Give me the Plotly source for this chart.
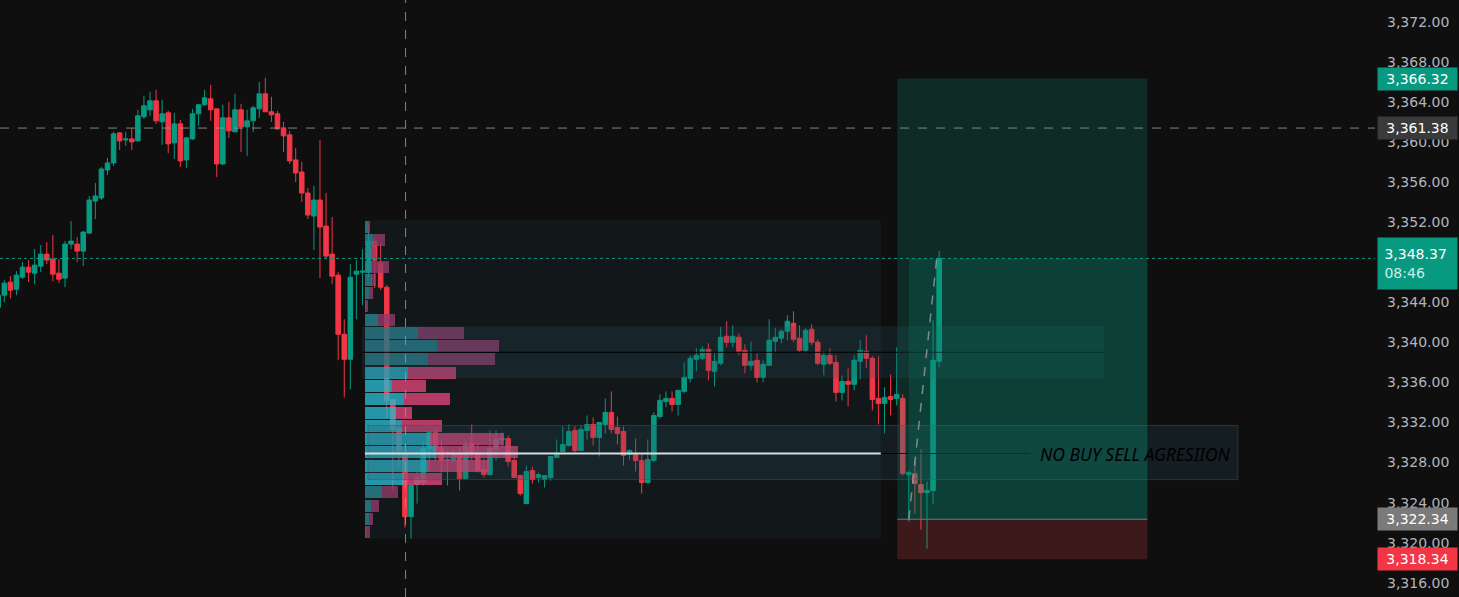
import plotly.graph_objects as go

# ---------------- data ----------------
bar_index = list(range(-1, 155))
opens = [3343.5,
 3344.7, 3346.0, 3345.3, 3346.5, 3347.5, 3346.9, 3347.6, 3348.8, 3348.3, 3346.9,
 3346.4, 3349.8, 3349.8, 3349.1, 3350.9, 3354.1, 3354.4, 3357.2, 3357.9, 3360.9,
 3360.2, 3360.3, 3360.1, 3362.5, 3363.2, 3364.1, 3362.0, 3362.9, 3359.9, 3361.8,
 3358.2, 3360.3, 3362.8, 3363.7, 3364.3, 3363.3, 3357.8, 3362.4, 3361.0, 3363.2,
 3361.5, 3362.1, 3363.3, 3364.8, 3363.0, 3362.8, 3361.4, 3360.7, 3358.2, 3357.0,
 3354.9, 3352.6, 3354.2, 3351.6, 3348.8, 3346.7, 3340.8, 3338.3, 3346.8, 3347.0,
 3347.0, 3350.1, 3347.9, 3345.5, 3334.3, 3331.4, 3328.9, 3322.6, 3325.8, 3326.0,
 3329.4, 3331.0, 3329.5, 3328.2, 3328.2, 3328.9, 3326.4, 3329.9, 3328.9, 3327.3,
 3326.8, 3329.3, 3330.3, 3330.4, 3328.2, 3326.7, 3323.9, 3327.2, 3326.5, 3326.3,
 3326.5, 3328.5, 3329.1, 3329.7, 3331.2, 3329.2, 3331.2, 3331.8, 3330.5, 3331.8,
 3333.0, 3331.5, 3331.1, 3328.8, 3328.8, 3328.2, 3326.0, 3328.2, 3332.6, 3334.1,
 3334.4, 3333.8, 3335.1, 3336.4, 3338.3, 3338.4, 3339.3, 3337.1, 3337.9, 3340.6,
 3340.0, 3340.5, 3339.2, 3337.7, 3338.2, 3336.5, 3337.7, 3340.1, 3340.4, 3341.1,
 3341.9, 3340.4, 3339.2, 3341.3, 3340.0, 3337.8, 3338.7, 3338.0, 3335.0, 3336.1,
 3335.8, 3338.1, 3339.1, 3338.4, 3334.4, 3333.9, 3334.6, 3334.4, 3334.4, 3326.8,
 3326.9, 3325.8, 3325.0, 3325.2, 3338.1]
highs = [3345.3,
 3346.2, 3346.6, 3347.1, 3348.0, 3348.2, 3349.3, 3349.7, 3350.0, 3350.7, 3348.3,
 3350.1, 3352.1, 3350.5, 3351.1, 3354.6, 3355.9, 3357.5, 3358.4, 3361.0, 3360.9,
 3361.0, 3361.4, 3363.2, 3364.6, 3365.0, 3365.2, 3364.2, 3363.1, 3362.9, 3362.2,
 3360.5, 3363.3, 3363.8, 3365.2, 3365.7, 3363.3, 3363.7, 3364.0, 3364.8, 3363.8,
 3363.2, 3363.6, 3366.0, 3366.4, 3364.5, 3363.1, 3362.0, 3361.1, 3359.4, 3358.0,
 3355.4, 3355.6, 3360.2, 3354.9, 3352.5, 3347.0, 3342.3, 3347.8, 3348.2, 3349.3,
 3351.7, 3350.5, 3349.9, 3345.7, 3334.3, 3331.9, 3329.9, 3325.9, 3327.2, 3330.2,
 3331.2, 3331.4, 3330.4, 3329.4, 3329.4, 3329.5, 3330.2, 3331.8, 3329.9, 3328.4,
 3331.2, 3331.2, 3331.0, 3330.7, 3328.7, 3326.8, 3327.7, 3327.6, 3327.0, 3326.7,
 3328.6, 3330.3, 3331.6, 3331.8, 3331.6, 3331.7, 3332.7, 3332.5, 3332.0, 3334.4,
 3335.1, 3332.6, 3331.6, 3329.3, 3330.4, 3328.8, 3330.3, 3333.0, 3334.8, 3335.1,
 3335.1, 3335.2, 3338.0, 3338.7, 3339.4, 3339.6, 3339.9, 3338.9, 3341.5, 3342.1,
 3341.7, 3340.9, 3339.8, 3340.1, 3338.9, 3338.2, 3342.3, 3341.4, 3341.3, 3342.7,
 3343.1, 3341.7, 3341.4, 3341.8, 3340.3, 3339.1, 3339.4, 3338.7, 3336.7, 3337.4,
 3338.7, 3340.2, 3340.7, 3338.6, 3338.6, 3335.5, 3336.8, 3339.5, 3334.8, 3327.2,
 3328.2, 3329.3, 3326.1, 3342.2, 3349.1]
lows = [3342.8,
 3344.0, 3344.4, 3344.7, 3346.3, 3346.0, 3345.8, 3347.0, 3347.8, 3346.1, 3345.9,
 3345.5, 3349.3, 3348.0, 3347.6, 3350.8, 3352.3, 3354.2, 3356.7, 3357.6, 3359.2,
 3359.6, 3359.2, 3360.1, 3362.3, 3362.6, 3361.8, 3359.7, 3358.9, 3358.3, 3357.5,
 3357.4, 3360.2, 3361.6, 3363.6, 3362.1, 3356.5, 3357.7, 3360.4, 3361.0, 3359.0,
 3358.6, 3361.0, 3362.4, 3363.0, 3362.0, 3361.2, 3359.0, 3357.8, 3356.0, 3354.0,
 3352.3, 3349.2, 3346.4, 3348.4, 3345.8, 3338.2, 3334.5, 3335.3, 3342.3, 3343.7,
 3346.5, 3345.4, 3345.2, 3332.5, 3325.2, 3327.5, 3321.5, 3320.4, 3323.9, 3325.7,
 3327.2, 3328.2, 3327.0, 3325.7, 3328.0, 3325.2, 3326.3, 3328.2, 3327.0, 3326.5,
 3326.7, 3328.2, 3329.4, 3327.6, 3326.5, 3324.7, 3323.9, 3325.9, 3326.0, 3325.5,
 3326.2, 3328.5, 3329.1, 3329.6, 3329.0, 3329.2, 3330.3, 3329.7, 3328.6, 3330.9,
 3330.9, 3329.8, 3327.7, 3328.3, 3327.1, 3324.9, 3325.9, 3328.0, 3332.4, 3333.5,
 3333.1, 3332.7, 3334.9, 3336.0, 3337.1, 3338.2, 3336.2, 3335.6, 3337.7, 3339.5,
 3339.5, 3338.7, 3336.9, 3337.2, 3336.0, 3336.0, 3337.7, 3339.0, 3339.9, 3340.2,
 3340.0, 3339.0, 3338.9, 3339.7, 3337.7, 3336.7, 3337.7, 3334.1, 3334.2, 3333.6,
 3335.2, 3336.3, 3337.4, 3333.2, 3331.8, 3330.9, 3332.7, 3333.7, 3326.7, 3322.1,
 3322.9, 3321.3, 3319.4, 3323.9, 3337.5]
closes = [3344.7,
 3345.9, 3345.2, 3346.7, 3347.5, 3347.0, 3347.7, 3348.8, 3348.2, 3346.8, 3346.3,
 3349.8, 3350.1, 3349.1, 3351.0, 3354.2, 3354.6, 3357.3, 3357.9, 3360.8, 3360.1,
 3360.3, 3360.0, 3362.6, 3363.6, 3364.1, 3362.1, 3362.8, 3359.8, 3361.8, 3358.1,
 3360.4, 3362.8, 3363.7, 3364.4, 3363.2, 3357.8, 3362.4, 3361.1, 3363.2, 3361.5,
 3362.1, 3363.4, 3364.8, 3363.0, 3362.7, 3361.3, 3360.6, 3358.1, 3356.9, 3354.9,
 3352.7, 3354.2, 3351.5, 3348.6, 3346.6, 3340.8, 3338.3, 3346.5, 3347.1, 3347.1,
 3350.1, 3348.2, 3345.5, 3334.2, 3331.3, 3329.2, 3322.6, 3325.7, 3326.5, 3329.4,
 3331.0, 3329.2, 3328.2, 3328.3, 3328.9, 3326.4, 3329.8, 3328.8, 3327.2, 3326.8,
 3329.4, 3330.3, 3330.4, 3328.1, 3326.5, 3324.9, 3327.1, 3326.3, 3326.8, 3326.7,
 3328.6, 3328.9, 3329.8, 3331.1, 3329.2, 3331.3, 3331.8, 3330.5, 3332.0, 3333.0,
 3331.3, 3330.9, 3328.7, 3329.2, 3328.2, 3326.0, 3328.3, 3332.7, 3334.2, 3334.4,
 3333.8, 3335.2, 3336.5, 3338.4, 3338.7, 3339.3, 3337.2, 3338.1, 3340.5, 3340.0,
 3340.6, 3339.1, 3337.7, 3338.1, 3336.5, 3337.8, 3340.2, 3340.5, 3341.1, 3342.1,
 3340.3, 3339.2, 3341.2, 3340.0, 3337.9, 3338.7, 3337.9, 3335.0, 3336.1, 3335.8,
 3338.2, 3339.2, 3338.4, 3334.3, 3333.9, 3334.5, 3334.3, 3334.8, 3326.9, 3327.0,
 3325.9, 3325.0, 3325.2, 3338.2, 3348.37]

# volume profile (price bins, buy / sell volume)
vp_levels = [3351.54, 3350.21, 3348.89, 3347.56, 3346.24, 3344.91, 3343.59, 3342.26,
             3340.94, 3339.61, 3338.29, 3336.96, 3335.64, 3334.31, 3332.99, 3331.66,
             3330.34, 3329.01, 3327.69, 3326.36, 3325.04, 3323.71, 3322.39, 3321.06]
vp_buy = [3, 8, 7, 7, 7, 4, 1, 13, 53, 72, 63, 43, 27, 39, 31, 37, 65, 71, 63, 39, 17, 6, 4, 1]
vp_sell = [2, 12, 4, 17, 4, 4, 2, 17, 46, 62, 67, 48, 34, 46, 16, 40, 74, 82, 61, 38, 16, 8, 4, 4]
vp_in_value_area = [False] * 11 + [True] * 9 + [False] * 4

# key prices
TARGET = 3366.32
CROSSHAIR_PRICE = 3361.38
LAST_PRICE = 3348.37
ENTRY = 3322.34
STOP = 3318.34
COUNTDOWN = "08:46"
tick_values = [3316, 3320, 3324, 3328, 3332, 3336, 3340, 3344, 3348, 3352, 3356, 3360, 3364, 3368, 3372]

# drawing anchors (bar index / price)
VP_BAR0, VP_BAR1, VP_TOP, VP_BOTTOM = 59.4, 144.4, 3352.2, 3320.4
UPPER_ZONE = (58.9, 181.2, 3336.4, 3341.6)
UPPER_LINE = 3339.0
LOWER_ZONE = (59.9, 203.2, 3326.3, 3331.7)
POC = 3328.9
POC_LINE_END = 144.4
TEXT_LINE_END = 169.0
TEXT_BAR = 170.3
POS_BAR0, POS_BAR1, ENTRY_BAR, EXIT_BAR = 147.1, 188.3, 149.0, 153.6
CROSSHAIR_BAR = 66.1

BG = "#0f0f0f"
UP = "#089981"
DOWN = "#f23645"

fig = go.Figure()

fig.add_trace(go.Candlestick(
    x=bar_index, open=opens, high=highs, low=lows, close=closes,
    increasing=dict(line=dict(color=UP, width=1), fillcolor=UP),
    decreasing=dict(line=dict(color=DOWN, width=1), fillcolor=DOWN),
    whiskerwidth=0,
    hoverinfo="skip", showlegend=False,
))

buy_colors = ["rgba(42,182,204,0.8)" if v else "rgba(40,132,144,0.8)" for v in vp_in_value_area]
sell_colors = ["rgba(222,67,119,0.8)" if v else "rgba(148,59,104,0.8)" for v in vp_in_value_area]

fig.add_trace(go.Bar(y=vp_levels, x=vp_buy, orientation="h", xaxis="x2", yaxis="y",
                     marker=dict(color=buy_colors, line=dict(width=0)), width=1.2,
                     hoverinfo="skip", showlegend=False))
fig.add_trace(go.Bar(y=vp_levels, x=vp_sell, orientation="h", xaxis="x2", yaxis="y",
                     marker=dict(color=sell_colors, line=dict(width=0)), width=1.2,
                     hoverinfo="skip", showlegend=False))

shapes = []
# volume profile background
shapes.append(dict(type="rect", xref="x", yref="y", x0=VP_BAR0, x1=VP_BAR1, y0=VP_BOTTOM, y1=VP_TOP,
                   fillcolor="#121819", line=dict(width=0), layer="below"))
# zones
shapes.append(dict(type="rect", xref="x", yref="y", x0=UPPER_ZONE[0], x1=UPPER_ZONE[1],
                   y0=UPPER_ZONE[2], y1=UPPER_ZONE[3],
                   fillcolor="rgba(42,84,101,0.22)", line=dict(width=0), layer="above"))
shapes.append(dict(type="line", xref="x", yref="y", x0=UPPER_ZONE[0], x1=UPPER_ZONE[1],
                   y0=UPPER_LINE, y1=UPPER_LINE, line=dict(color="#000000", width=1), layer="above"))
shapes.append(dict(type="rect", xref="x", yref="y", x0=LOWER_ZONE[0], x1=LOWER_ZONE[1],
                   y0=LOWER_ZONE[2], y1=LOWER_ZONE[3],
                   fillcolor="rgba(42,84,101,0.22)", line=dict(color="rgba(60,85,95,0.5)", width=1),
                   layer="above"))
shapes.append(dict(type="line", xref="x", yref="y", x0=VP_BAR0, x1=POC_LINE_END, y0=POC, y1=POC,
                   line=dict(color="#d8dde2", width=2), layer="above"))
shapes.append(dict(type="line", xref="x", yref="y", x0=POC_LINE_END, x1=TEXT_LINE_END, y0=POC, y1=POC,
                   line=dict(color="#000000", width=1), layer="above"))
# position tool
shapes.append(dict(type="rect", xref="x", yref="y", x0=POS_BAR0, x1=POS_BAR1, y0=ENTRY, y1=TARGET,
                   fillcolor="rgba(8,153,129,0.2)", line=dict(width=0), layer="above"))
shapes.append(dict(type="rect", xref="x", yref="y", x0=ENTRY_BAR, x1=POS_BAR1, y0=ENTRY, y1=LAST_PRICE,
                   fillcolor="rgba(8,153,129,0.18)", line=dict(width=0), layer="above"))
shapes.append(dict(type="rect", xref="x", yref="y", x0=POS_BAR0, x1=POS_BAR1, y0=STOP, y1=ENTRY,
                   fillcolor="rgba(242,70,80,0.2)", line=dict(width=0), layer="above"))
shapes.append(dict(type="line", xref="x", yref="y", x0=POS_BAR0, x1=POS_BAR1, y0=ENTRY, y1=ENTRY,
                   line=dict(color="#787878", width=1), layer="above"))
shapes.append(dict(type="line", xref="x", yref="y", x0=ENTRY_BAR, x1=EXIT_BAR, y0=ENTRY, y1=LAST_PRICE,
                   line=dict(color="rgba(170,170,170,0.7)", width=1.5, dash="dash"), layer="above"))
# price line & crosshair
shapes.append(dict(type="line", xref="paper", yref="y", x0=0, x1=1, y0=LAST_PRICE, y1=LAST_PRICE,
                   line=dict(color=UP, width=1, dash="dot"), layer="above"))
shapes.append(dict(type="line", xref="paper", yref="y", x0=0, x1=1, y0=CROSSHAIR_PRICE, y1=CROSSHAIR_PRICE,
                   line=dict(color="rgba(150,150,150,0.85)", width=1, dash="dash"), layer="above"))
shapes.append(dict(type="line", xref="x", yref="paper", x0=CROSSHAIR_BAR, x1=CROSSHAIR_BAR, y0=0, y1=1,
                   line=dict(color="rgba(150,150,150,0.85)", width=1, dash="dash"), layer="above"))

annotations = [dict(xref="x", yref="y", x=TEXT_BAR, y=POC, xanchor="left", yanchor="middle",
                    text="NO BUY SELL AGRESIION", showarrow=False,
                    font=dict(family="Noto Sans", size=17.5, color="#000000", style="italic"))]

labels = [
    (TARGET, f"{TARGET:,.2f}", UP),
    (CROSSHAIR_PRICE, f"{CROSSHAIR_PRICE:,.2f}", "#3a3a3a"),
    (ENTRY, f"{ENTRY:,.2f}", "#7a7a7a"),
    (STOP, f"{STOP:,.2f}", DOWN),
]
for price, txt, bg in labels:
    annotations.append(dict(xref="paper", yref="y", x=1, y=price, xanchor="left", yanchor="middle",
                            xshift=2, text=txt, showarrow=False, bgcolor=bg, width=75, height=18,
                            borderpad=2, align="center",
                            font=dict(family="DejaVu Sans", size=14, color="#ffffff")))
annotations.append(dict(xref="paper", yref="y", x=1, y=LAST_PRICE, xanchor="left", yanchor="top",
                        xshift=2, yshift=21,
                        text=f"&nbsp;{LAST_PRICE:,.2f}<br>&nbsp;<span style='color:#cdeee6'>{COUNTDOWN}</span>",
                        showarrow=False, bgcolor=UP, width=75, height=47, borderpad=2, align="left",
                        font=dict(family="DejaVu Sans", size=14, color="#ffffff")))

fig.update_layout(
    width=1459, height=597,
    margin=dict(l=0, r=84, t=0, b=0),
    paper_bgcolor=BG, plot_bgcolor=BG,
    barmode="stack", bargap=0,
    boxgap=0.25, boxgroupgap=0,
    showlegend=False,
    shapes=shapes, annotations=annotations,
    hovermode=False,
    xaxis=dict(range=[-0.71, 225.8], visible=False, rangeslider=dict(visible=False),
               showgrid=False, zeroline=False, fixedrange=True),
    xaxis2=dict(overlaying="x", anchor="y", range=[-365, 1010], visible=False,
                showgrid=False, zeroline=False),
    yaxis=dict(side="right", range=[3314.58, 3374.16], tickvals=tick_values, tickformat=",.2f",
               showgrid=False, zeroline=False, ticks="", ticklabelstandoff=11,
               tickfont=dict(family="DejaVu Sans", size=14, color="#b2b5be"), fixedrange=True),
)

fig.write_html("out.html", config={"displayModeBar": False},
               post_script="document.body.style.margin='0px';document.body.style.overflow='hidden';")
